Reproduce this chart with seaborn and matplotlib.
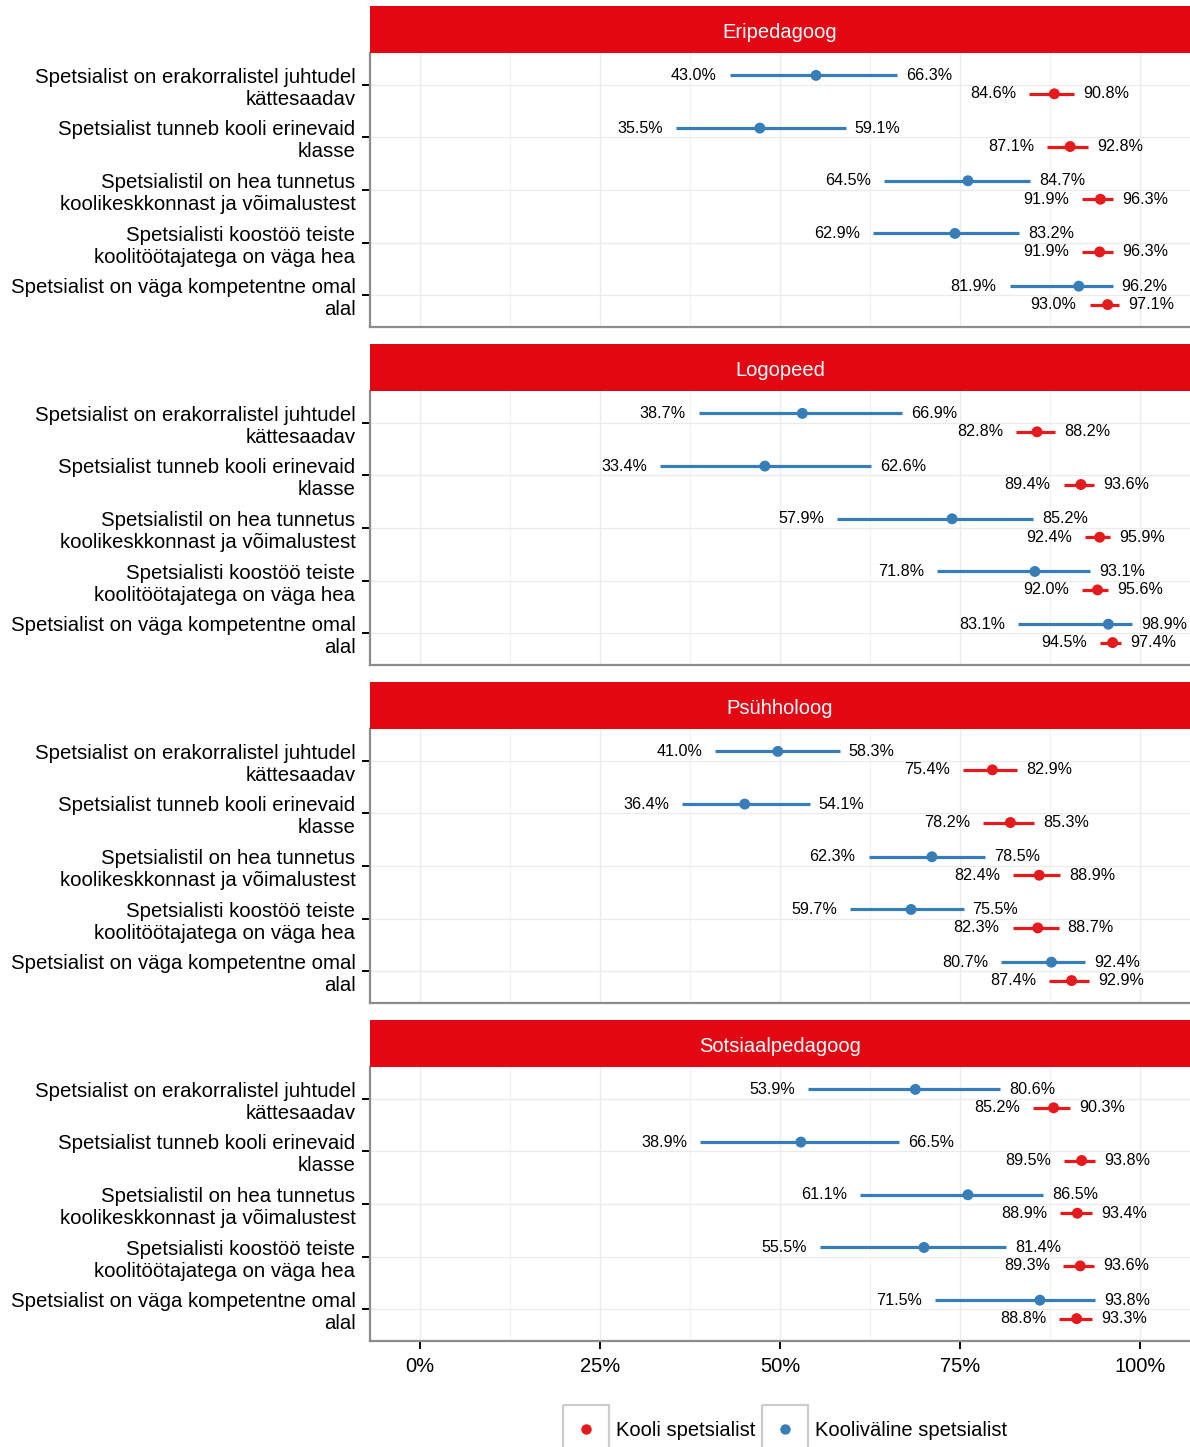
import numpy as np
import pandas as pd
import matplotlib
matplotlib.use("Agg")
import matplotlib.pyplot as plt
import seaborn as sns
from matplotlib.patches import Rectangle

# -------------------------
# Andmed
# -------------------------
kysimused = [
    "Spetsialist on erakorralistel juhtudel\nkättesaadav",
    "Spetsialist tunneb kooli erinevaid\nklasse",
    "Spetsialistil on hea tunnetus\nkoolikeskkonnast ja võimalustest",
    "Spetsialisti koostöö teiste\nkoolitöötajatega on väga hea",
    "Spetsialist on väga kompetentne omal\nalal",
]
ametid = ["Eripedagoog", "Logopeed", "Psühholoog", "Sotsiaalpedagoog"]
grupid = ["Kooli spetsialist", "Kooliväline spetsialist"]

# Kooli spetsialist (punane), üks rida iga ameti kohta
kooli_alum = [[84.6, 87.1, 91.9, 91.9, 93.0],
              [82.8, 89.4, 92.4, 92.0, 94.5],
              [75.4, 78.2, 82.4, 82.3, 87.4],
              [85.2, 89.5, 88.9, 89.3, 88.8]]
kooli_hinnang = [[88.1, 90.3, 94.5, 94.4, 95.5],
                 [85.7, 91.8, 94.4, 94.1, 96.2],
                 [79.5, 82.0, 86.0, 85.8, 90.5],
                 [88.0, 91.9, 91.3, 91.7, 91.2]]
kooli_ylem = [[90.8, 92.8, 96.3, 96.3, 97.1],
              [88.2, 93.6, 95.9, 95.6, 97.4],
              [82.9, 85.3, 88.9, 88.7, 92.9],
              [90.3, 93.8, 93.4, 93.6, 93.3]]

# Kooliväline spetsialist (sinine)
valine_alum = [[43.0, 35.5, 64.5, 62.9, 81.9],
               [38.7, 33.4, 57.9, 71.8, 83.1],
               [41.0, 36.4, 62.3, 59.7, 80.7],
               [53.9, 38.9, 61.1, 55.5, 71.5]]
valine_hinnang = [[55.0, 47.2, 76.1, 74.3, 91.5],
                  [53.1, 47.9, 73.9, 85.4, 95.6],
                  [49.7, 45.1, 71.1, 68.2, 87.7],
                  [68.8, 52.9, 76.1, 70.0, 86.1]]
valine_ylem = [[66.3, 59.1, 84.7, 83.2, 96.2],
               [66.9, 62.6, 85.2, 93.1, 98.9],
               [58.3, 54.1, 78.5, 75.5, 92.4],
               [80.6, 66.5, 86.5, 81.4, 93.8]]

read = []
for a, amet in enumerate(ametid):
    for k in range(len(kysimused)):
        read.append([amet, k, grupid[0], kooli_alum[a][k], kooli_hinnang[a][k], kooli_ylem[a][k]])
        read.append([amet, k, grupid[1], valine_alum[a][k], valine_hinnang[a][k], valine_ylem[a][k]])
df = pd.DataFrame(read, columns=["amet", "k", "grupp", "alum", "hinnang", "ylem"])
nihe = {grupid[0]: 0.175, grupid[1]: -0.175}
df["y"] = df["k"] + df["grupp"].map(nihe)

# -------------------------
# Joonis
# -------------------------
sns.set_style("white")
plt.rcParams["font.family"] = ["Liberation Sans", "DejaVu Sans"]
plt.rcParams["text.color"] = "black"
plt.rcParams["xtick.labelcolor"] = "black"
plt.rcParams["ytick.labelcolor"] = "black"

varvid = {grupid[0]: "#E41A1C", grupid[1]: "#377EB8"}
riba_varv = "#E30613"

W, H = 1190, 1447
fig = plt.figure(figsize=(W / 100, H / 100), dpi=100)

vasak = 370
paneel_h = 274
riba_h = 47
samm = 338

for i, amet in enumerate(ametid):
    top = 53 + samm * i
    ax = fig.add_axes([vasak / W, 1 - (top + paneel_h) / H, (W - vasak) / W, paneel_h / H])
    riba = fig.add_axes([vasak / W, 1 - top / H, (W - vasak) / W, riba_h / H])
    riba.set_facecolor(riba_varv)
    riba.set_xticks([])
    riba.set_yticks([])
    for s in riba.spines.values():
        s.set_visible(False)
    riba.text(0.5, 0.43, amet, color="white", fontsize=14.5, ha="center", va="center",
              transform=riba.transAxes)

    sub = df[df["amet"] == amet]

    ax.hlines(sub["y"], sub["alum"], sub["ylem"], colors=sub["grupp"].map(varvid), lw=2.3, zorder=2)
    sns.scatterplot(data=sub, x="hinnang", y="y", hue="grupp", palette=varvid, s=62,
                    edgecolor="none", legend=False, ax=ax, zorder=3)

    for _, r in sub.iterrows():
        ax.annotate(f"{r['alum']:.1f}%", (r["alum"], r["y"]), xytext=(-13, 0),
                    textcoords="offset pixels", ha="right", va="center", fontsize=11.6)
        ax.annotate(f"{r['ylem']:.1f}%", (r["ylem"], r["y"]), xytext=(9, 0),
                    textcoords="offset pixels", ha="left", va="center", fontsize=11.6)

    ax.set_xlim(-50 / 7.2, 770 / 7.2)
    ax.set_ylim(len(kysimused) - 0.4, -0.6)
    ax.set_yticks(range(len(kysimused)))
    ax.set_yticklabels(kysimused, fontsize=14.7, linespacing=1.2)
    ax.set_xticks([0, 25, 50, 75, 100])
    ax.set_xticks([12.5, 37.5, 62.5, 87.5], minor=True)
    ax.grid(True, which="major", color="#EBEBEB", lw=0.9)
    ax.grid(True, which="minor", axis="x", color="#F3F3F3", lw=0.9)
    ax.set_axisbelow(True)
    ax.set_xlabel("")
    ax.set_ylabel("")

    if i == len(ametid) - 1:
        ax.set_xticklabels([f"{t}%" for t in [0, 25, 50, 75, 100]], fontsize=14.5)
        ax.tick_params(axis="x", which="major", length=5.5, width=1.4, color="black",
                       pad=6, bottom=True)
    else:
        ax.tick_params(axis="x", which="both", bottom=False, labelbottom=False)
    ax.tick_params(axis="x", which="minor", bottom=False)
    ax.tick_params(axis="y", length=5.5, width=1.4, color="black", pad=5, left=True)

    for side in ["top", "right"]:
        ax.spines[side].set_visible(False)
    for side in ["left", "bottom"]:
        ax.spines[side].set_color("#8C8C8C")
        ax.spines[side].set_linewidth(1.6)

# -------------------------
# Legend (käsitsi, kastidega)
# -------------------------
leg = fig.add_axes([0, 0, 1, 60 / H])
leg.set_xlim(0, W)
leg.set_ylim(H, H - 60)
leg.axis("off")
votmed = [(563, grupid[0]), (762, grupid[1])]
for x0, g in votmed:
    leg.add_patch(Rectangle((x0, 1405), 46, 60, fill=False, edgecolor="#CCCCCC", lw=1.6,
                            clip_on=False))
    leg.plot([x0 + 23], [1429], "o", color=varvid[g], markersize=7.5, markeredgewidth=0)
    leg.text(x0 + 53, 1431, g, fontsize=14.5, ha="left", va="center")

fig.savefig("out.png", dpi=100)
